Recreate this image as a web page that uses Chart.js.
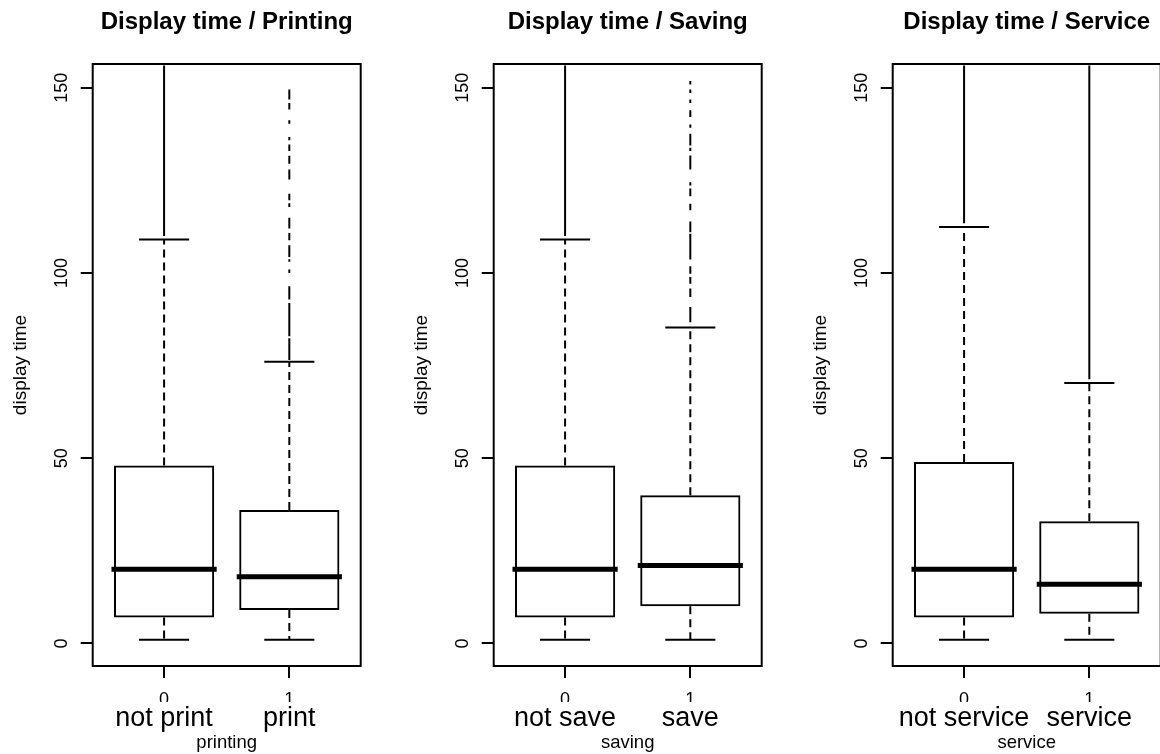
<!DOCTYPE html>
<html>
<head>
<meta charset="utf-8">
<script src="https://cdn.jsdelivr.net/npm/chart.js"></script>
<style>
html, body { margin: 0; padding: 0; background: #fff; overflow: hidden; width: 1160px; height: 754px; }
.panel { position: absolute; top: 0; width: 400px; height: 754px; }
canvas { display: block; }
</style>
</head>
<body>
<div class="panel" style="left:0px"><canvas id="c0" width="400" height="754"></canvas></div>
<div class="panel" style="left:401px"><canvas id="c1" width="400" height="754"></canvas></div>
<div class="panel" style="left:800px"><canvas id="c2" width="400" height="754"></canvas></div>
<script>
// ---------- data ----------
const panelTitles = ['Display time / Printing', 'Display time / Saving', 'Display time / Service'];
const xAxisTitles = ['printing', 'saving', 'service'];
const yAxisTitle = 'display time';
const groupCodes = ['0', '1'];
const groupNames = [['not print', 'print'], ['not save', 'save'], ['not service', 'service']];
const groupPositions = [1, 2];
const yTicks = [0, 50, 100, 150];

const whiskerLow  = [[1, 1], [1, 1], [1, 1]];
const q1          = [[7, 9], [7, 10], [7, 8]];
const medians     = [[20, 18], [20, 21], [20, 16]];
const q3          = [[48, 36], [48, 40], [49, 33]];
const whiskerHigh = [[109, 76], [109, 85.3], [112.4, 70.3]];

// outliers, read as runs of points [from, to]
const outlierRunsPrinting = [
  [[110, 156]],
  [[76.5, 82.4], [82.9, 91.9], [92.8, 96.4], [100, 100.9], [103, 103.7], [104.3, 107.5], [108.8, 110.8],
   [112, 114.9], [117.8, 118.8], [119.6, 121.4], [125.2, 127.9], [129.5, 131.6], [132.9, 134.7],
   [135.8, 136.7], [140.3, 141.2], [144.1, 145.9], [146.8, 149.5]]
];
const outlierRunsSaving = [
  [[110, 156]],
  [[86.7, 90.8], [93.5, 95.8], [97.1, 98.9], [99.8, 101.8], [103.6, 110.6], [111, 113.9], [116.9, 118.7],
   [120.7, 122.8], [123.6, 124.5], [127.9, 131.7], [132.9, 133.8], [134.4, 137.6], [139.2, 140.1],
   [142.1, 143.9], [145.9, 146.8], [148.6, 149.5], [150.9, 151.8]]
];
const outlierRunsService = [
  [[113.4, 156]],
  [[71.3, 156]]
];
const outlierRuns = [outlierRunsPrinting, outlierRunsSaving, outlierRunsService];

// ---------- style ----------
const FONT = "'Liberation Sans', Arial, Helvetica, sans-serif";
const BOX_HALF = 0.4;
const CAP_HALF = 0.2;
Chart.defaults.font.family = FONT;
Chart.defaults.color = '#000';
Chart.defaults.animation = false;

const framePlugin = {
  id: 'frame',
  afterDatasetsDraw(chart) {
    const { ctx, chartArea: a } = chart;
    ctx.save();
    ctx.strokeStyle = '#000';
    ctx.lineWidth = 2;
    ctx.strokeRect(a.left, a.top, a.right - a.left, a.bottom - a.top);
    ctx.restore();
  }
};

function lineSet(data, width, dash, order) {
  return {
    type: 'scatter', data, xAxisID: 'x', yAxisID: 'y',
    showLine: true, spanGaps: false, tension: 0, fill: false,
    pointRadius: 0, pointHoverRadius: 0,
    borderColor: '#000', borderWidth: width, borderDash: dash || [],
    borderCapStyle: width > 3 ? 'square' : 'butt',
    order
  };
}

function buildPanel(p) {
  const gap = x => ({ x, y: null });
  const boxes = groupPositions.map((x, i) => ({ x, y: [q1[p][i], q3[p][i]] }));
  const whiskers = [], caps = [], meds = [], outs = [];
  groupPositions.forEach((x, i) => {
    whiskers.push({ x, y: q3[p][i] }, { x, y: whiskerHigh[p][i] }, gap(x),
                  { x, y: q1[p][i] }, { x, y: whiskerLow[p][i] }, gap(x));
    caps.push({ x: x - CAP_HALF, y: whiskerHigh[p][i] }, { x: x + CAP_HALF, y: whiskerHigh[p][i] }, gap(x),
              { x: x - CAP_HALF, y: whiskerLow[p][i] }, { x: x + CAP_HALF, y: whiskerLow[p][i] }, gap(x));
    meds.push({ x: x - BOX_HALF, y: medians[p][i] }, { x: x + BOX_HALF, y: medians[p][i] }, gap(x));
    outlierRuns[p][i].forEach(([a, b]) => outs.push({ x, y: a }, { x, y: b }, gap(x)));
  });

  const xTicksFromPositions = scale => { scale.ticks = groupPositions.map(v => ({ value: v })); };

  new Chart(document.getElementById('c' + p), {
    type: 'bar',
    data: {
      datasets: [
        lineSet(meds, 5, null, 0),
        {
          type: 'bar', data: boxes, xAxisID: 'x', yAxisID: 'y',
          backgroundColor: 'rgba(255,255,255,0)', borderColor: '#000', borderWidth: 2,
          borderSkipped: false, categoryPercentage: 0.8, barPercentage: 1, order: 3
        },
        lineSet(caps, 2, null, 1),
        lineSet(whiskers, 2, [8, 5], 2),
        lineSet(outs, 2, null, 2)
      ]
    },
    options: {
      responsive: false,
      devicePixelRatio: 1,
      animation: false,
      layout: { padding: { left: 0, right: 39.3, top: 0, bottom: 0 } },
      plugins: {
        legend: { display: false },
        tooltip: { enabled: false },
        title: {
          display: true, text: panelTitles[p], fullSize: false, color: '#000',
          font: { family: FONT, size: 24, weight: 'bold', lineHeight: 1.2 },
          padding: { top: 8.4, bottom: 26.8 }
        }
      },
      scales: {
        x: {
          type: 'linear', position: 'bottom', min: 0.43, max: 2.57, weight: 0, offset: false,
          afterBuildTicks: xTicksFromPositions,
          afterFit: s => { s.height = 36; },
          border: { display: false },
          grid: { display: true, offset: false, drawOnChartArea: false, drawTicks: true, tickLength: 12, lineWidth: 2, color: '#000' },
          ticks: {
            autoSkip: false, maxRotation: 0, minRotation: 0, padding: 11.2, color: '#000',
            font: { family: FONT, size: 18, lineHeight: 1.2 },
            callback: (v, i) => groupCodes[i]
          }
        },
        x2: {
          type: 'linear', axis: 'x', position: 'bottom', min: 0.43, max: 2.57, weight: 1, offset: false,
          afterBuildTicks: xTicksFromPositions,
          afterFit: s => { s.height = 52; },
          border: { display: false },
          grid: { display: false, offset: false, drawTicks: false },
          ticks: {
            autoSkip: false, maxRotation: 0, minRotation: 0, padding: 0.1, color: '#000',
            font: { family: FONT, size: 27, lineHeight: 1.2 },
            callback: (v, i) => groupNames[p][i]
          },
          title: {
            display: true, text: xAxisTitles[p], color: '#000',
            font: { family: FONT, size: 18.5, lineHeight: 1.2 },
            padding: { top: 0, bottom: 0 }
          }
        },
        y: {
          type: 'linear', position: 'left', min: -6.1, max: 156.4,
          afterBuildTicks: s => { s.ticks = yTicks.map(v => ({ value: v })); },
          afterFit: s => { s.width = 92.7; },
          border: { display: false },
          grid: { display: true, drawOnChartArea: false, drawTicks: true, tickLength: 12, lineWidth: 2, color: '#000' },
          ticks: {
            minRotation: 90, maxRotation: 90, crossAlign: 'center', padding: 3.2, color: '#000',
            font: { family: FONT, size: 18, lineHeight: 1.2 },
            callback: v => String(v)
          },
          title: {
            display: true, text: yAxisTitle, color: '#000',
            font: { family: FONT, size: 19, lineHeight: 1.2 },
            padding: { top: 9.3, bottom: 0 }
          }
        }
      }
    },
    plugins: [framePlugin]
  });
}

[0, 1, 2].forEach(buildPanel);
</script>
</body>
</html>
